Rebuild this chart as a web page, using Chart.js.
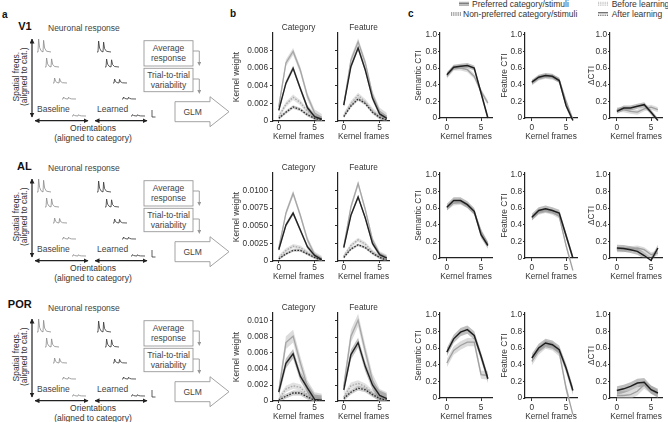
<!DOCTYPE html>
<html>
<head>
<meta charset="utf-8">
<script src="https://cdn.jsdelivr.net/npm/chart.js@4.4.1/dist/chart.umd.min.js"></script>
<style>
  html, body { margin:0; padding:0; background:#fff; }
  body { width:668px; height:422px; position:relative; overflow:hidden; }
  .plot { position:absolute; }
  #sketch { position:absolute; left:0; top:0; }
</style>
</head>
<body>
<svg id="sketch" width="668" height="422"></svg>
<script>
// ---------- DATA ----------
const frames = [0, 1, 2, 3, 4, 5, 6];
const xTicks = [0, 5];
const areaNames = ['V1', 'AL', 'POR'];

// panel b: kernel weights (pre = before learning, post = after, np = non-preferred)
const v1CatPre    = [0.0016, 0.0066, 0.0079, 0.0058, 0.0028, 0.0009, 0.0004];
const v1CatPost   = [0.0012, 0.0043, 0.0060, 0.0037, 0.0015, 0.0005, 0.0002];
const v1CatNpPre  = [0.0005, 0.0019, 0.0027, 0.0021, 0.0011, 0.0004, 0.0001];
const v1CatNpPost = [0.0003, 0.0010, 0.0016, 0.0013, 0.0007, 0.0003, 0.0001];
const v1FeaPre    = [0.0018, 0.0069, 0.0090, 0.0066, 0.0030, 0.0011, 0.0005];
const v1FeaPost   = [0.0018, 0.0062, 0.0083, 0.0058, 0.0026, 0.0008, 0.0003];
const v1FeaNpPre  = [0.0006, 0.0020, 0.0029, 0.0022, 0.0012, 0.0005, 0.0002];
const v1FeaNpPost = [0.0005, 0.0017, 0.0025, 0.0020, 0.0010, 0.0004, 0.0001];

const alCatPre    = [0.0018, 0.0068, 0.0096, 0.0065, 0.0030, 0.0009, 0.0003];
const alCatPost   = [0.0016, 0.0051, 0.0068, 0.0044, 0.0020, 0.0008, 0.0002];
const alCatNpPre  = [0.0005, 0.0015, 0.0021, 0.0019, 0.0012, 0.0006, 0.0002];
const alCatNpPost = [0.0003, 0.0010, 0.0015, 0.0015, 0.0010, 0.0005, 0.0001];
const alFeaPre    = [0.0020, 0.0077, 0.0110, 0.0073, 0.0030, 0.0010, 0.0005];
const alFeaPost   = [0.0019, 0.0065, 0.0091, 0.0061, 0.0025, 0.0009, 0.0004];
const alFeaNpPre  = [0.0007, 0.0022, 0.0030, 0.0024, 0.0013, 0.0006, 0.0002];
const alFeaNpPost = [0.0005, 0.0017, 0.0023, 0.0019, 0.0011, 0.0005, 0.0001];

const porCatPre    = [0.0012, 0.0073, 0.0081, 0.0048, 0.0018, 0.0003, 0.0001];
const porCatPost   = [0.0011, 0.0047, 0.0059, 0.0031, 0.0016, 0.0002, 0.0001];
const porCatNpPre  = [0.0002, 0.0015, 0.0019, 0.0017, 0.0008, 0.0002, 0.0000];
const porCatNpPost = [0.0001, 0.0006, 0.0010, 0.0010, 0.0005, 0.0001, 0.0000];
const porFeaPre    = [0.0018, 0.0081, 0.0101, 0.0062, 0.0026, 0.0007, 0.0003];
const porFeaPost   = [0.0014, 0.0058, 0.0073, 0.0043, 0.0020, 0.0007, 0.0003];
const porFeaNpPre  = [0.0005, 0.0019, 0.0022, 0.0018, 0.0010, 0.0003, 0.0001];
const porFeaNpPost = [0.0003, 0.0011, 0.0016, 0.0014, 0.0008, 0.0003, 0.0001];

// shaded error half-widths [pre, post, npPre, npPost] per area
const bErr = [[0.0004, 0.0003, 0.0003, 0.0002], [0.0004, 0.0003, 0.0003, 0.0002], [0.0008, 0.0006, 0.0004, 0.0003]];

// panel b y axes
const bYMax = [0.01, 0.0125, 0.011];
const bYTicks = [[0, 0.002, 0.004, 0.006, 0.008], [0, 0.0025, 0.005, 0.0075, 0.01], [0, 0.002, 0.004, 0.006, 0.008, 0.01]];
const bYLabels = [['0', '0.002', '0.004', '0.006', '0.008'], ['0', '0.0025', '0.0050', '0.0075', '0.0100'], ['0', '0.002', '0.004', '0.006', '0.008', '0.010']];

// panel c: category tuning index, before (pre) and after (post) learning
const v1SemPre   = [0.50, 0.60, 0.60, 0.58, 0.50, 0.32, 0.18];
const v1SemPost  = [0.52, 0.61, 0.62, 0.63, 0.60, 0.30, 0.00];
const v1FctPre   = [0.42, 0.48, 0.50, 0.49, 0.46, 0.20, -0.02];
const v1FctPost  = [0.43, 0.49, 0.51, 0.50, 0.45, 0.15, -0.03];
const v1DltPre   = [0.10, 0.10, 0.08, 0.07, 0.11, 0.13, 0.10];
const v1DltPost  = [0.08, 0.12, 0.12, 0.14, 0.16, 0.07, -0.03];

const alSemPre   = [0.60, 0.66, 0.67, 0.63, 0.55, 0.32, 0.17];
const alSemPost  = [0.61, 0.69, 0.69, 0.64, 0.56, 0.28, 0.15];
const alFctPre   = [0.48, 0.55, 0.57, 0.55, 0.50, 0.15, -0.15];
const alFctPost  = [0.49, 0.57, 0.59, 0.57, 0.54, 0.27, 0.00];
const alDltPre   = [0.10, 0.10, 0.11, 0.12, 0.10, 0.04, 0.06];
const alDltPost  = [0.12, 0.115, 0.10, 0.08, 0.03, -0.03, 0.12];

const porSemPre  = [0.42, 0.57, 0.63, 0.67, 0.67, 0.28, 0.27];
const porSemPost = [0.55, 0.71, 0.79, 0.82, 0.75, 0.50, 0.23];
const porFctPre  = [0.44, 0.57, 0.64, 0.62, 0.55, 0.12, -0.20];
const porFctPost = [0.48, 0.60, 0.66, 0.64, 0.58, 0.36, 0.09];
const porDltPre  = [0.03, 0.03, 0.04, 0.08, 0.16, 0.10, 0.05];
const porDltPost = [0.09, 0.11, 0.14, 0.18, 0.19, 0.10, 0.06];

const cErr = [[0.03, 0.03], [0.03, 0.04], [0.05, 0.05]];
const cYTicks = [0, 0.2, 0.4, 0.6, 0.8, 1.0];
const cYLabels = ['0', '0.2', '0.4', '0.6', '0.8', '1.0'];
const cTitles = ['Semantic CTI', 'Feature CTI', '\u0394CTI'];

// ---------- STYLE ----------
const FONT = '"Liberation Sans", Arial, sans-serif';
const TXT = '#333';
Chart.defaults.font.family = FONT;
Chart.defaults.animation = false;

// ---------- SCHEMATIC (panel a) + legend, plain svg ----------
const svg = document.getElementById('sketch');
let s = `<defs>
  <marker id="ah" markerUnits="userSpaceOnUse" markerWidth="5" markerHeight="5" refX="4.5" refY="2.5" orient="auto-start-reverse"><path d="M0,0 L5,2.5 L0,5 z" fill="#222"/></marker>
  <marker id="ag" markerUnits="userSpaceOnUse" markerWidth="4" markerHeight="4" refX="2" refY="2" orient="auto"><path d="M0,0 L4,2 L0,4 z" fill="#999"/></marker>
</defs>`;
const txt = (x, y, t, o = {}) =>
  `<text x="${x}" y="${y}" font-family='${FONT}' font-size="${o.size || 8.5}" font-weight="${o.bold ? 'bold' : 'normal'}" fill="${o.fill || TXT}" text-anchor="${o.anchor || 'start'}" dominant-baseline="central"${o.rot ? ` transform="rotate(-90 ${x} ${y})"` : ''}>${t}</text>`;

function trace(x, y, h, col) {
  const p = [[0,0],[1,0],[1.6,-h],[2.6,-h*0.35],[4,-h*0.1],[6,0],[6.6,-h*0.9],[7.6,-h*0.3],[9.5,-h*0.06],[14,0]];
  return `<path d="M${p.map(q => (x + q[0]).toFixed(1) + ',' + (y + q[1]).toFixed(1)).join(' L')}" fill="none" stroke="${col}" stroke-width="0.8"/>`;
}

s += txt(2, 14, 'a', { size: 10, bold: true, fill: '#111' });
s += txt(230, 13, 'b', { size: 10, bold: true, fill: '#111' });
s += txt(408, 13, 'c', { size: 10, bold: true, fill: '#111' });

const rowDy = [0, 140, 280];
const nameY = [26.3, 166.3, 303.7];
const baseTr = [[37, 52, 13], [45, 67, 9], [53, 83, 5], [62, 99, 2], [72, 116, 1.5]];
const learnTr = [[97, 52, 11], [105, 67, 8], [113, 83, 4], [122, 99, 2], [131, 116, 1.5]];
rowDy.forEach((dy, r) => {
  s += txt(31.7, nameY[r], areaNames[r], { size: 11, bold: true, anchor: 'end', fill: '#111' });
  s += txt(48, 27.7 + dy, 'Neuronal response', { fill: '#444' });
  s += `<line x1="32" y1="${39 + dy}" x2="32" y2="${117 + dy}" stroke="#222" stroke-width="1.2" marker-start="url(#ah)" marker-end="url(#ah)"/>`;
  s += txt(15.7, 76.7 + dy, 'Spatial freqs.', { anchor: 'middle', rot: true });
  s += txt(24.5, 76.7 + dy, '(aligned to cat.)', { anchor: 'middle', rot: true });
  s += `<line x1="35" y1="${120.7 + dy}" x2="88" y2="${120.7 + dy}" stroke="#222" stroke-width="1.2" marker-start="url(#ah)" marker-end="url(#ah)"/>`;
  s += `<line x1="95" y1="${120.7 + dy}" x2="147" y2="${120.7 + dy}" stroke="#222" stroke-width="1.2" marker-start="url(#ah)" marker-end="url(#ah)"/>`;
  s += txt(93, 127.7 + dy, 'Orientations', { anchor: 'middle' });
  s += txt(93, 137.5 + dy, '(aligned to category)', { anchor: 'middle' });
  baseTr.forEach(t => { s += trace(t[0], t[1] + dy, t[2], '#8a8a8a'); });
  learnTr.forEach(t => { s += trace(t[0], t[1] + dy, t[2], '#333'); });
  s += `<path d="M152,${110 + dy} L152,${117 + dy} L155.5,${117 + dy}" fill="none" stroke="#333" stroke-width="0.8"/>`;
  s += txt(37, 109 + dy, 'Baseline', { fill: '#444' });
  s += txt(97, 109 + dy, 'Learned', { fill: '#444' });
  s += `<rect x="144" y="${40.7 + dy}" width="49" height="25.3" fill="none" stroke="#999" stroke-width="0.9"/>`;
  s += txt(168.5, 48.3 + dy, 'Average', { anchor: 'middle', fill: '#444' });
  s += txt(168.5, 58.3 + dy, 'response', { anchor: 'middle', fill: '#444' });
  s += `<rect x="144" y="${68.3 + dy}" width="49" height="23.4" fill="none" stroke="#999" stroke-width="0.9"/>`;
  s += txt(168.5, 75 + dy, 'Trial-to-trial', { anchor: 'middle', fill: '#444' });
  s += txt(168.5, 84.5 + dy, 'variability', { anchor: 'middle', fill: '#444' });
  s += `<path d="M193,${51 + dy} L199.3,${51 + dy} L199.3,${64 + dy}" fill="none" stroke="#999" stroke-width="0.9" marker-end="url(#ag)"/>`;
  s += `<path d="M193,${79 + dy} L199.3,${79 + dy} L199.3,${92 + dy}" fill="none" stroke="#999" stroke-width="0.9" marker-end="url(#ag)"/>`;
  s += `<polygon points="175,${101.7 + dy} 210,${101.7 + dy} 210,${96.7 + dy} 229,${111.7 + dy} 210,${126.7 + dy} 210,${121.7 + dy} 175,${121.7 + dy}" fill="#fff" stroke="#999" stroke-width="0.9"/>`;
  s += txt(192.7, 111.7 + dy, 'GLM', { anchor: 'middle', fill: '#444' });
});

// legend of panel c
function icon(x, y, lines) {
  return lines.map(l => `<line x1="${x}" y1="${y + l[0]}" x2="${x + 10}" y2="${y + l[0]}" stroke="${l[1]}" stroke-width="0.9"${l[2] ? ' stroke-dasharray="1,0.8"' : ''}/>`).join('');
}
s += icon(459, 3.8, [[-1.5, '#999'], [0, '#333'], [1.5, '#999']]);
s += txt(472, 3.8, 'Preferred category/stimuli');
s += icon(451, 14, [[-1.5, '#999', 1], [0, '#333', 1], [1.5, '#999', 1]]);
s += txt(463, 14, 'Non-preferred category/stimuli');
s += icon(598, 3.8, [[-1.5, '#bbb', 1], [0, '#aaa', 1], [1.5, '#bbb', 1]]);
s += txt(611.7, 3.8, 'Before learning');
s += icon(598, 14, [[-1.2, '#222'], [1.2, '#222', 1]]);
s += txt(611.7, 14, 'After learning');
svg.innerHTML = s;

// ---------- CHART HELPERS ----------
const pts = arr => frames.map((f, i) => ({ x: f, y: arr[i] }));

function seriesSets(vals, err, lineColor, bandColor, dotted, width, order) {
  return [
    { data: pts(vals), borderColor: lineColor, borderWidth: width, borderDash: dotted ? [1.6, 1.4] : [],
      pointRadius: 0, fill: false, order: order },
    { data: pts(vals.map(v => v - err)), borderWidth: 0, pointRadius: 0, fill: false, order: 10 },
    { data: pts(vals.map(v => v + err)), borderWidth: 0, pointRadius: 0, fill: '-1', backgroundColor: bandColor, order: 10 }
  ];
}

function addChart(o) {
  const div = document.createElement('div');
  div.className = 'plot';
  div.style.left = (o.L - o.padL) + 'px';
  div.style.top = (o.T - o.padT) + 'px';
  div.style.width = (o.W + o.padL + o.padR) + 'px';
  div.style.height = (o.H + o.padT + o.padB) + 'px';
  const cv = document.createElement('canvas');
  div.appendChild(cv);
  document.body.appendChild(div);

  const titleSize = 8.3, lh = titleSize * 1.2;
  new Chart(cv, {
    type: 'line',
    data: { datasets: o.datasets },
    options: {
      responsive: true,
      maintainAspectRatio: false,
      animation: false,
      layout: { padding: { top: o.title ? o.padT - lh - o.titleGap : o.padT, left: 0, right: o.padR, bottom: 0 } },
      plugins: {
        legend: { display: false },
        tooltip: { enabled: false },
        title: { display: !!o.title, text: o.title, fullSize: false, color: TXT,
                 font: { size: titleSize, weight: 'normal' }, padding: { top: 0, bottom: o.titleGap } }
      },
      scales: {
        x: {
          type: 'linear', min: o.xmin, max: o.xmax,
          afterBuildTicks: sc => { sc.ticks = xTicks.map(v => ({ value: v })); },
          afterFit: sc => { sc.height = o.padB; sc.paddingLeft = 0; sc.paddingRight = 0; },
          ticks: { autoSkip: false, maxRotation: 0, padding: o.xPad, color: TXT, font: { size: 8.3 }, callback: v => String(v) },
          grid: { drawOnChartArea: false, drawTicks: true, tickLength: o.xTl, color: '#333', lineWidth: 1 },
          border: { display: true, color: '#222', width: 1.2 },
          title: { display: true, text: 'Kernel frames', color: TXT, font: { size: 8.3 },
                   padding: { top: 0, bottom: o.padB - o.xtOff - lh / 2 } }
        },
        y: {
          min: 0, max: o.ymax,
          afterBuildTicks: sc => { sc.ticks = o.yTicks.map(v => ({ value: v })); },
          afterFit: sc => { sc.width = o.padL; sc.paddingTop = 0; sc.paddingBottom = 0; },
          ticks: { autoSkip: false, padding: o.yPad, color: TXT, font: { size: 8.3 },
                   callback: (v, i) => o.yLabels ? o.yLabels[i] : '' },
          grid: { drawOnChartArea: false, drawTicks: true, tickLength: o.yTl, color: '#333', lineWidth: 1 },
          border: { display: true, color: '#222', width: 1.2 },
          title: { display: !!o.yTitle, text: o.yTitle, color: TXT, font: { size: 8.3 },
                   padding: { top: o.padL - o.ytOff - lh / 2, bottom: 0 } }
        }
      }
    }
  });
}

// ---------- PANEL b ----------
const bData = [
  [[v1CatPre, v1CatPost, v1CatNpPre, v1CatNpPost], [v1FeaPre, v1FeaPost, v1FeaNpPre, v1FeaNpPost]],
  [[alCatPre, alCatPost, alCatNpPre, alCatNpPost], [alFeaPre, alFeaPost, alFeaNpPre, alFeaNpPost]],
  [[porCatPre, porCatPost, porCatNpPre, porCatNpPost], [porFeaPre, porFeaPost, porFeaNpPre, porFeaNpPost]]
];
const bBottom = [121, 261, 401];
const bLeft = [273, 338];
bData.forEach((row, r) => {
  row.forEach((set, k) => {
    const e = bErr[r];
    const ds = [].concat(
      seriesSets(set[1], e[1], '#222', 'rgba(100,100,100,0.40)', false, 1.4, 0),
      seriesSets(set[0], e[0], '#a6a6a6', 'rgba(185,185,185,0.50)', false, 1.3, 1),
      seriesSets(set[3], e[3], '#2a2a2a', 'rgba(110,110,110,0.35)', true, 1.3, 2),
      seriesSets(set[2], e[2], '#aaaaaa', 'rgba(190,190,190,0.45)', true, 1.3, 3)
    );
    addChart({
      L: bLeft[k], T: bBottom[r] - 88, W: 51, H: 88,
      padL: k === 0 ? 44 : 6, padR: 4, padT: 14, padB: 22, titleGap: 0.5,
      title: k === 0 ? 'Category' : 'Feature',
      xmin: -0.8, xmax: 6.3, ymax: bYMax[r],
      yTicks: bYTicks[r], yLabels: k === 0 ? bYLabels[r] : null,
      yTitle: k === 0 ? 'Kernel weight' : '', ytOff: 36,
      xTl: 2, xPad: 0, yTl: 3, yPad: 2, xtOff: 16,
      datasets: ds
    });
  });
});

// ---------- PANEL c ----------
const cData = [
  [[v1SemPre, v1SemPost], [v1FctPre, v1FctPost], [v1DltPre, v1DltPost]],
  [[alSemPre, alSemPost], [alFctPre, alFctPost], [alDltPre, alDltPost]],
  [[porSemPre, porSemPost], [porFctPre, porFctPost], [porDltPre, porDltPost]]
];
const cBottom = [118.3, 258.3, 398.3];
const cLeft = [440, 525, 610];
const cTitleOff = [21.7, 20, 18.3];
cData.forEach((row, r) => {
  row.forEach((pair, k) => {
    const ds = [].concat(
      seriesSets(pair[1], cErr[r][1], '#1e1e1e', 'rgba(110,110,110,0.45)', false, 1.5, 0),
      seriesSets(pair[0], cErr[r][0], '#a0a0a0', 'rgba(185,185,185,0.5)', false, 1.3, 1)
    );
    ds.forEach(d => { d.clip = false; });
    addChart({
      L: cLeft[k], T: cBottom[r] - 85, W: 52, H: 85,
      padL: 28, padR: 4, padT: 6, padB: 25, titleGap: 0,
      title: '',
      xmin: -1, xmax: 6.6, ymax: 1.02,
      yTicks: cYTicks, yLabels: cYLabels,
      yTitle: cTitles[k], ytOff: cTitleOff[k],
      xTl: 3, xPad: 2, yTl: 2, yPad: 1, xtOff: 19,
      datasets: ds
    });
  });
});
</script>
</body>
</html>
